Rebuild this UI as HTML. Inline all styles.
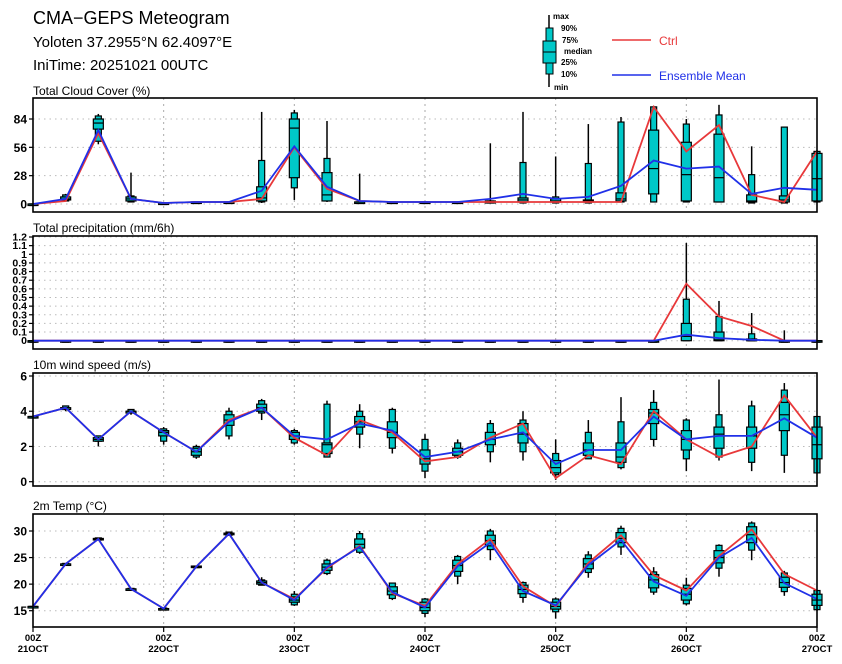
<!DOCTYPE html>
<html><head><meta charset="utf-8">
<style>
html,body{margin:0;padding:0;background:#fff;}
svg{display:block;font-family:"Liberation Sans",sans-serif;}
</style></head>
<body>
<svg id="chart" width="842" height="664" viewBox="0 0 842 664" xmlns="http://www.w3.org/2000/svg">
<text x="33" y="24" font-size="18">CMA−GEPS Meteogram</text>
<text x="33" y="47" font-size="15">Yoloten 37.2955°N 62.4097°E</text>
<text x="33" y="70" font-size="15">IniTime: 20251021 00UTC</text>
<g>
 <line x1="549" y1="15" x2="549" y2="87" stroke="#000" stroke-width="1.5"/>
 <rect x="546" y="28" width="7" height="46" fill="#00c8c8" stroke="#000"/>
 <rect x="543" y="41" width="13" height="22" fill="#00c8c8" stroke="#000"/>
 <line x1="543" y1="52" x2="556" y2="52" stroke="#000"/>
 <text x="553" y="19" font-size="8" font-weight="bold">max</text>
 <text x="561" y="31" font-size="8" font-weight="bold">90%</text>
 <text x="562" y="43" font-size="8" font-weight="bold">75%</text>
 <text x="564" y="54" font-size="8" font-weight="bold">median</text>
 <text x="561" y="65" font-size="8" font-weight="bold">25%</text>
 <text x="561" y="77" font-size="8" font-weight="bold">10%</text>
 <text x="554" y="90" font-size="8" font-weight="bold">min</text>
 <line x1="612" y1="40" x2="651" y2="40" stroke="#e8383a" stroke-width="1.5"/>
 <text x="659" y="45" font-size="12" fill="#e8383a">Ctrl</text>
 <line x1="612" y1="75" x2="651" y2="75" stroke="#2030e8" stroke-width="1.5"/>
 <text x="659" y="80" font-size="12" fill="#2030e8">Ensemble Mean</text>
</g>
<g id="plots"></g>
</svg>
<script>
// ---- data ----
const times = ["00Z 21OCT","06Z","12Z","18Z","00Z 22OCT","06Z","12Z","18Z","00Z 23OCT","06Z","12Z","18Z","00Z 24OCT","06Z","12Z","18Z","00Z 25OCT","06Z","12Z","18Z","00Z 26OCT","06Z","12Z","18Z","00Z 27OCT"];
const dayLabels = ["21OCT","22OCT","23OCT","24OCT","25OCT","26OCT","27OCT"];

const cloudMax = [0,10,89,31,1,2,2,91,93,82,30,2,2,2,60,91,47,79,86,97,84,98,57,76,53];
const cloudP90 = [0,9,87,8,1,2,2,43,90,45,2,2,2,2,3,41,7,40,81,96,79,88,29,76,52];
const cloudP75 = [0,7,84,7,1,2,2,17,84,31,2,2,2,2,3,6,5,4,11,73,61,69,9,8,50];
const cloudMed = [0,5,80,5,1,2,2,6,75,9,2,2,2,2,2,4,3,3,5,35,29,26,3,4,25];
const cloudP25 = [0,4,74,3,1,2,2,3,26,3,1,1,1,1,1,2,2,2,3,10,3,2,2,2,3];
const cloudP10 = [0,3,62,2,1,2,2,2,16,3,1,1,1,1,1,1,1,1,2,2,2,2,1,1,2];
const cloudMin = [0,3,59,2,1,2,2,1,4,2,1,1,1,1,1,1,1,1,2,2,2,2,1,1,2];
const cloudCtrl = [0,3,70,5,1,2,2,5,56,15,3,2,2,2,2,2,2,2,2,96,52,78,9,2,52];
const cloudMean = [0,5,73,5,1,2,2,13,57,17,3,2,2,2,5,10,5,7,18,43,35,37,10,16,14];

const precMax = [0,0,0,0,0,0,0,0,0,0,0,0,0,0,0,0,0,0,0,0,1.13,0.46,0.32,0.12,0];
const precP90 = [0,0,0,0,0,0,0,0,0,0,0,0,0,0,0,0,0,0,0,0,0.48,0.28,0.08,0,0];
const precP75 = [0,0,0,0,0,0,0,0,0,0,0,0,0,0,0,0,0,0,0,0,0.2,0.1,0.02,0,0];
const precMed = [0,0,0,0,0,0,0,0,0,0,0,0,0,0,0,0,0,0,0,0,0.05,0.01,0,0,0];
const precP25 = [0,0,0,0,0,0,0,0,0,0,0,0,0,0,0,0,0,0,0,0,0,0,0,0,0];
const precP10 = [0,0,0,0,0,0,0,0,0,0,0,0,0,0,0,0,0,0,0,0,0,0,0,0,0];
const precMin = [0,0,0,0,0,0,0,0,0,0,0,0,0,0,0,0,0,0,0,0,0,0,0,0,0];
const precCtrl = [0,0,0,0,0,0,0,0,0,0,0,0,0,0,0,0,0,0,0,0,0.66,0.28,0.17,0,0];
const precMean = [0,0,0,0,0,0,0,0,0,0,0,0,0,0,0,0,0,0,0,0,0.07,0.03,0.01,0,0];

const windMax = [3.7,4.3,2.6,4.1,3.1,2.1,4.2,4.7,3.0,4.6,4.4,4.2,2.7,2.4,3.5,4.0,2.4,3.5,4.8,5.2,3.6,5.8,4.6,5.6,3.7];
const windP90 = [3.7,4.3,2.6,4.1,3.0,2.0,4.0,4.6,2.9,4.4,4.0,4.1,2.4,2.2,3.3,3.5,1.6,2.8,3.4,4.5,3.5,3.8,4.3,5.2,3.7];
const windP75 = [3.7,4.2,2.5,4.0,2.9,1.9,3.8,4.4,2.8,2.2,3.7,3.4,1.8,1.9,2.8,3.3,1.2,2.2,2.2,4.1,2.9,3.1,3.1,4.5,3.1];
const windMed = [3.7,4.2,2.4,4.0,2.8,1.7,3.5,4.2,2.6,2.1,3.4,2.8,1.3,1.7,2.4,2.7,0.8,1.8,1.4,3.9,2.4,2.7,2.6,3.8,2.1];
const windP25 = [3.7,4.1,2.3,3.9,2.6,1.5,3.2,4.0,2.4,1.6,3.1,2.5,1.0,1.5,2.1,2.2,0.5,1.5,1.1,3.3,1.8,1.9,1.9,2.9,1.3];
const windP10 = [3.7,4.1,2.3,3.9,2.3,1.4,2.6,3.9,2.2,1.4,2.7,1.9,0.6,1.4,1.7,1.7,0.4,1.3,0.8,2.4,1.3,1.4,1.1,1.5,0.5];
const windMin = [3.7,4.0,2.0,3.8,2.1,1.3,2.4,3.5,2.1,1.4,1.9,1.6,0.2,1.3,1.1,1.2,0.1,1.3,0.7,2.0,0.6,1.2,0.6,0.5,0.5];
const windCtrl = [3.7,4.2,2.4,4.0,2.8,1.7,3.5,4.2,2.5,1.5,3.5,2.8,1.15,1.4,2.5,3.3,0.2,1.5,1.0,4.0,2.4,1.4,2.0,4.9,2.5];
const windMean = [3.7,4.2,2.4,4.0,2.8,1.7,3.4,4.2,2.6,2.4,3.3,2.9,1.4,1.7,2.4,2.8,1.0,1.8,1.8,3.7,2.4,2.6,2.6,3.6,2.5];

const tempMax = [15.8,23.9,28.7,19.2,15.5,23.5,29.8,21.3,18.7,24.8,30.0,20.3,17.4,25.5,30.4,20.5,17.5,26.2,31.0,23.2,21.2,27.5,31.8,22.5,18.8];
const tempP90 = [15.8,23.9,28.7,19.2,15.5,23.4,29.8,20.8,18.1,24.5,29.5,20.2,17.2,25.2,30.0,20.3,17.2,25.5,30.5,22.3,19.8,27.3,31.5,22.1,18.8];
const tempP75 = [15.8,23.8,28.6,19.1,15.4,23.4,29.6,20.6,17.6,23.8,28.5,19.5,16.6,24.5,29.2,19.8,16.6,24.8,29.7,21.8,19.2,26.3,30.8,21.3,18.1];
const tempMed = [15.8,23.8,28.5,19.1,15.4,23.3,29.5,20.3,17.0,23.2,27.5,18.7,15.6,23.5,28.2,19.0,15.8,23.8,28.6,20.8,18.1,25.0,29.3,20.3,17.0];
const tempP25 = [15.8,23.8,28.4,19.0,15.3,23.2,29.3,20.0,16.6,22.6,26.8,18.0,15.0,22.4,27.2,18.2,15.3,22.9,27.8,19.3,17.0,24.0,27.8,19.4,16.0];
const tempP10 = [15.8,23.7,28.3,19.0,15.3,23.1,29.2,19.8,16.1,22.0,26.0,17.3,14.5,21.5,26.5,17.5,14.8,22.2,27.0,18.5,16.3,23.0,26.4,18.6,15.2];
const tempMin = [15.8,23.7,28.3,19.0,15.3,23.1,29.1,19.8,15.9,21.7,25.7,17.0,13.8,20.0,24.5,16.5,13.5,21.2,25.5,18.0,16.0,21.4,24.5,17.8,15.0];
const tempCtrl = [15.8,23.8,28.5,19.1,15.4,23.3,29.5,20.3,17.2,23.0,27.2,18.3,15.9,23.8,28.5,19.6,15.8,24.0,29.2,21.7,18.8,25.3,30.3,21.9,18.8];
const tempMean = [15.8,23.8,28.5,19.1,15.4,23.3,29.5,20.3,17.0,23.2,27.0,18.5,15.6,23.4,27.8,18.7,16.0,23.6,28.3,20.5,17.8,25.0,28.7,20.2,17.2];

const cloudTicks = [0,28,56,84];
const precTicks = [0,0.1,0.2,0.3,0.4,0.5,0.6,0.7,0.8,0.9,1,1.1,1.2];
const windTicks = [0,2,4,6];
const tempTicks = [15,20,25,30];

// ---- layout ----
const NS = "http://www.w3.org/2000/svg";
const X0 = 33, X1 = 817;
function xScale(i){ return X0 + (X1 - X0) * i / (times.length - 1); }
function mk(tag, attrs, parent){
  const e = document.createElementNS(NS, tag);
  for (const k in attrs) e.setAttribute(k, attrs[k]);
  parent.appendChild(e);
  return e;
}
const root = document.getElementById("plots");

const panels = [
  {key:"cloud", title:"Total Cloud Cover (%)", titleY:95, top:98, bottom:212, v0:0, y0:204, v1:84, y1:119,
   ticks:cloudTicks, d:[cloudMax,cloudP90,cloudP75,cloudMed,cloudP25,cloudP10,cloudMin,cloudCtrl,cloudMean], fmt:v=>String(v)},
  {key:"precip", title:"Total precipitation (mm/6h)", titleY:232, top:236, bottom:349, v0:0, y0:340.7, v1:1.2, y1:237,
   ticks:precTicks, d:[precMax,precP90,precP75,precMed,precP25,precP10,precMin,precCtrl,precMean], fmt:v=>String(v), small:true},
  {key:"wind", title:"10m wind speed (m/s)", titleY:369, top:373, bottom:486, v0:0, y0:481.7, v1:6, y1:376,
   ticks:windTicks, d:[windMax,windP90,windP75,windMed,windP25,windP10,windMin,windCtrl,windMean], fmt:v=>String(v)},
  {key:"temp", title:"2m Temp (°C)", titleY:510, top:514, bottom:627, v0:15, y0:610.7, v1:30, y1:531,
   ticks:tempTicks, d:[tempMax,tempP90,tempP75,tempMed,tempP25,tempP10,tempMin,tempCtrl,tempMean], fmt:v=>String(v)}
];

panels.forEach(p => {
  const yS = v => p.y0 + (v - p.v0) * (p.y1 - p.y0) / (p.v1 - p.v0);
  const g = mk("g", {}, root);
  
  
  const t = mk("text", {x:33, y:p.titleY, "font-size":12}, g);
  t.textContent = p.title;
  
  
  p.ticks.forEach(v => {
    const y = yS(v);
    const gl = mk("line", {x1:X0, x2:X1, y1:y, y2:y, stroke:"#bbb", "stroke-width":1, "stroke-dasharray":"1.5,4"}, g);
    
    
    mk("line", {x1:X0-4, x2:X0, y1:y, y2:y, stroke:"#000", "stroke-width":1.2}, g);
    const tl = mk("text", {x:X0-6, y:y + (p.small ? 3.5 : 4.5), "font-size": p.small ? 10.5 : 12, "text-anchor":"end", "font-weight":"bold"}, g);
    tl.textContent = p.fmt(v);
    
    
  });
  for (let d = 1; d < dayLabels.length - 1; d++) {
    const x = xScale(d * 4);
    mk("line", {x1:x, x2:x, y1:p.top, y2:p.bottom, stroke:"#aaa", "stroke-width":1, "stroke-dasharray":"2,4"}, g);
  }
  const [mx,p90,p75,md,p25,p10,mn,ctrl,mean] = p.d;
  times.forEach((tm, i) => {
    const x = xScale(i);
    const bg = mk("g", {}, g);
    
    
    mk("line", {x1:x, x2:x, y1:yS(mx[i]), y2:yS(mn[i]), stroke:"#000", "stroke-width":1.5}, bg);
    mk("rect", {x:x-3, y:yS(p90[i]), width:6, height:Math.max(1.5, yS(p10[i]) - yS(p90[i])), fill:"#00c8c8", stroke:"#000", "stroke-width":1.2}, bg);
    mk("rect", {x:x-5, y:yS(p75[i]), width:10, height:Math.max(1.5, yS(p25[i]) - yS(p75[i])), fill:"#00c8c8", stroke:"#000", "stroke-width":1.2}, bg);
    mk("line", {x1:x-5, x2:x+5, y1:yS(md[i]), y2:yS(md[i]), stroke:"#000", "stroke-width":1.2}, bg);
  });
  const pts = arr => arr.map((v, i) => xScale(i).toFixed(1) + "," + yS(v).toFixed(1)).join(" ");
  const cl = mk("polyline", {points:pts(ctrl), fill:"none", stroke:"#e8383a", "stroke-width":1.8}, g);
  
  
  const ml = mk("polyline", {points:pts(mean), fill:"none", stroke:"#2030e8", "stroke-width":1.8}, g);
  
  
  const fr = mk("rect", {x:X0, y:p.top, width:X1-X0, height:p.bottom-p.top, fill:"none", stroke:"#000", "stroke-width":1.6}, g);
  
  
});

const xa = mk("g", {}, root);


dayLabels.forEach((dl, d) => {
  const x = xScale(d * 4);
  mk("line", {x1:x, x2:x, y1:627, y2:632, stroke:"#000", "stroke-width":1.2}, xa);
  const a = mk("text", {x:x, y:641, "font-size":9.5, "text-anchor":"middle", "font-weight":"bold"}, xa);
  a.textContent = "00Z";
  
  
  const b = mk("text", {x:x, y:652, "font-size":9.5, "text-anchor":"middle", "font-weight":"bold"}, xa);
  b.textContent = dl;
  
  
});
</script>
</body></html>
